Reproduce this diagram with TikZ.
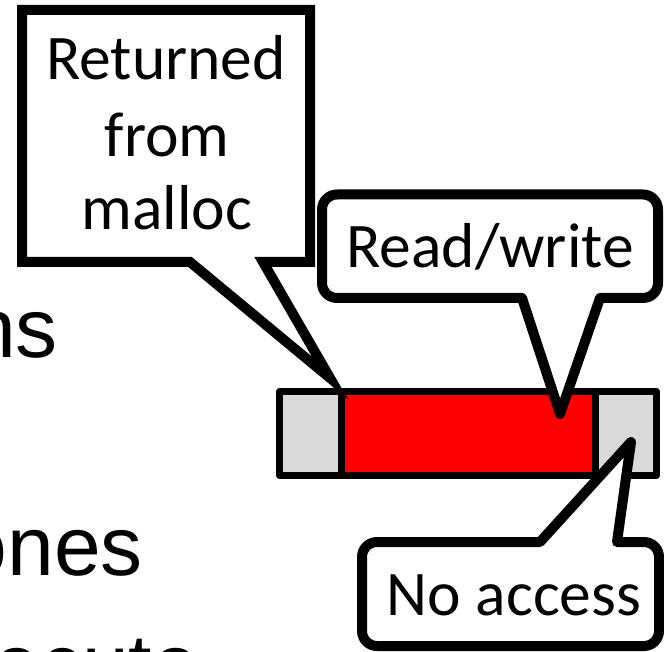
\documentclass[tikz,border=0pt]{standalone}
\usepackage{fontspec}
\setmainfont{Carlito}
\newfontfamily\bgfont{Liberation Sans}
\definecolor{cellgray}{HTML}{D9D9D9}
\definecolor{cellred}{HTML}{FF0000}
\begin{document}
\begin{tikzpicture}[x=1pt,y=-1pt,
  lbl/.style={inner sep=0pt, font=\fontsize{63.5}{74}\selectfont, anchor=base},
  bgtext/.style={inner sep=0pt, font=\bgfont\fontsize{84}{100}\selectfont, anchor=base west},
  callout/.style={draw=black, fill=white, line width=10pt},
  cell/.style={draw=black, line width=7pt, line join=round}]
\useasboundingbox (0,0) rectangle (664,652);
\clip (0,0) rectangle (664,652);
% background slide text (partly hidden)
\node[bgtext] (t1) at (-31,357) {ns};
\node[bgtext] (t2) at (-39.5,575) {ones};
\node[bgtext] (t3) at (-6.7,693.6) {ecute};
% memory bar
\fill[cellgray] (279.5,391.5) rectangle (341,475.5);
\fill[cellred] (341,391.5) rectangle (595.5,475.5);
\fill[cellgray] (595.5,391.5) rectangle (656.5,475.5);
\draw[cell] (279.5,391.5) rectangle (656.5,475.5);
\draw[cell] (341,391.5) -- (341,475.5);
\draw[cell] (595.5,391.5) -- (595.5,475.5);
% tail tips
\coordinate (tipM) at (330,378);
\coordinate (tipRW) at (560,414);
\coordinate (tipNA) at (631,442);
% callout: Returned from malloc
\draw[callout, line join=miter] (22,10) -- (310,10) -- (310,262) -- (263,262) -- (tipM) -- (190,262) -- (22,262) -- cycle;
\node[lbl] (m1) at (166,80) {Returned};
\node[lbl] (m2) at (167,157) {from};
\node[lbl] (m3) at (167,230) {malloc};
% callout: Read/write
\draw[callout, line join=round] (490,194.5) -- (643,194.5)
  arc[start angle=-90, end angle=0, radius=15] -- (658,283)
  arc[start angle=0, end angle=90, radius=15] -- (600,298) -- (tipRW) -- (522,298) -- (337,298)
  arc[start angle=90, end angle=180, radius=15] -- (322,209.5)
  arc[start angle=180, end angle=270, radius=15] -- cycle;
\node[lbl] (rw) at (490,268) {Read/write};
% callout: No access
\draw[callout, line join=round] (450,542) -- (540,542) -- (tipNA) -- (617,542) -- (644,542)
  arc[start angle=-90, end angle=0, radius=15] -- (659,631)
  arc[start angle=0, end angle=90, radius=15] -- (377,646)
  arc[start angle=90, end angle=180, radius=15] -- (362,557)
  arc[start angle=180, end angle=270, radius=15] -- cycle;
\node[lbl] (na) at (514,615) {No access};
\end{tikzpicture}
\end{document}
